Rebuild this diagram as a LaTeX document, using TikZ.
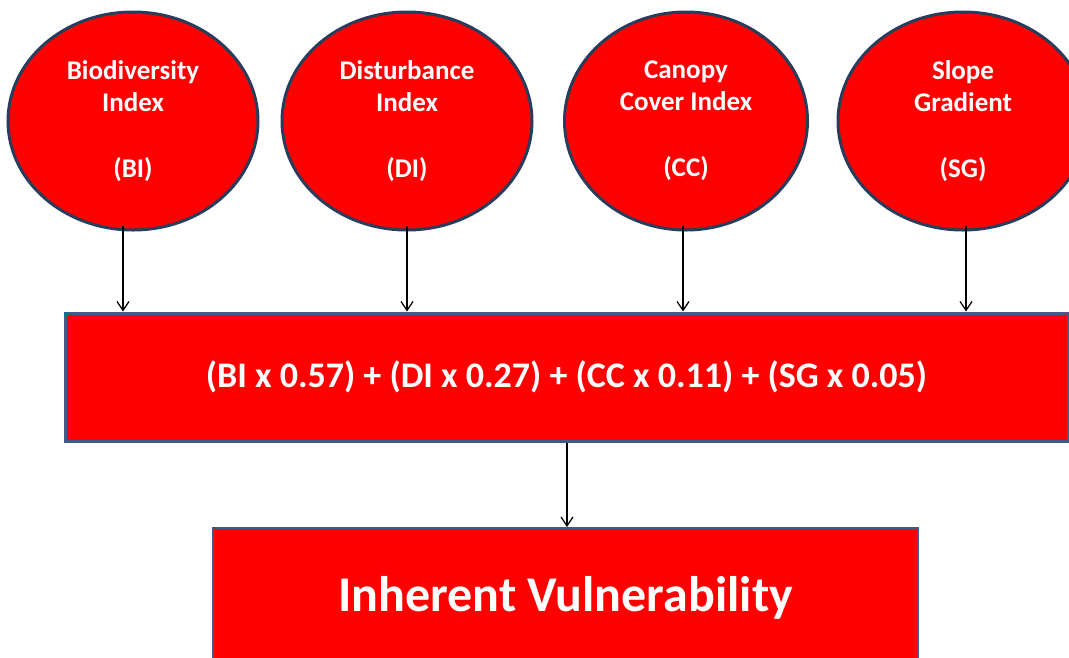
\documentclass[tikz,border=0pt]{standalone}
\usepackage{fontspec}
\setmainfont{Carlito}
\usetikzlibrary{shapes.geometric,arrows.meta}
\definecolor{bred}{RGB}{255,0,0}
\definecolor{edgenavy}{RGB}{40,60,92}
\definecolor{boxedge}{RGB}{62,92,135}
\tikzset{
  factor/.style={ellipse, draw=edgenavy, line width=3pt, fill=bred, minimum width=250, minimum height=218, inner sep=0pt, text=white, align=center, font=\bfseries\fontsize{27}{32}\selectfont},
  bigbox/.style={rectangle, draw=boxedge, line width=3pt, fill=bred, inner sep=0pt, text=white, align=center},
  arr/.style={draw=black, line width=1.2pt, -{Straight Barb[length=9pt,width=12pt,line width=1.2pt]}}
}
\begin{document}
\begin{tikzpicture}[x=1pt,y=-1pt]
\useasboundingbox (0,0) rectangle (1069,657);
\clip (0,0) rectangle (1069,657);
\node[factor] (bi) at (133,121) {Biodiversity\\Index\\[34pt](BI)};
\node[factor] (di) at (407,121) {Disturbance\\Index\\[34pt](DI)};
\node[factor, minimum width=243] (cc) at (686,121) {Canopy\\Cover Index\\[34pt](CC)};
\node[factor] (sg) at (963,121) {Slope\\Gradient\\[34pt](SG)};
\node[bigbox, minimum width=1003, minimum height=128, font=\bfseries\fontsize{36}{40}\selectfont] (formula) at (566.5,377) {(BI x 0.57) + (DI x 0.27) + (CC x 0.11) + (SG x 0.05)};
\node[bigbox, line width=2pt, minimum width=705, minimum height=140, font=\bfseries\fontsize{50}{54}\selectfont] (iv) at (565.5,598) {Inherent Vulnerability};
\coordinate (s1) at (123,226);
\coordinate (s2) at (407,226);
\coordinate (s3) at (683,226);
\coordinate (s4) at (966,226);
\foreach \s in {s1,s2,s3,s4} \draw[arr] (\s) -- (\s |- formula.north);
\draw[arr] (formula.south -| 567,0) -- (iv.north -| 567,0);
\end{tikzpicture}
\end{document}
